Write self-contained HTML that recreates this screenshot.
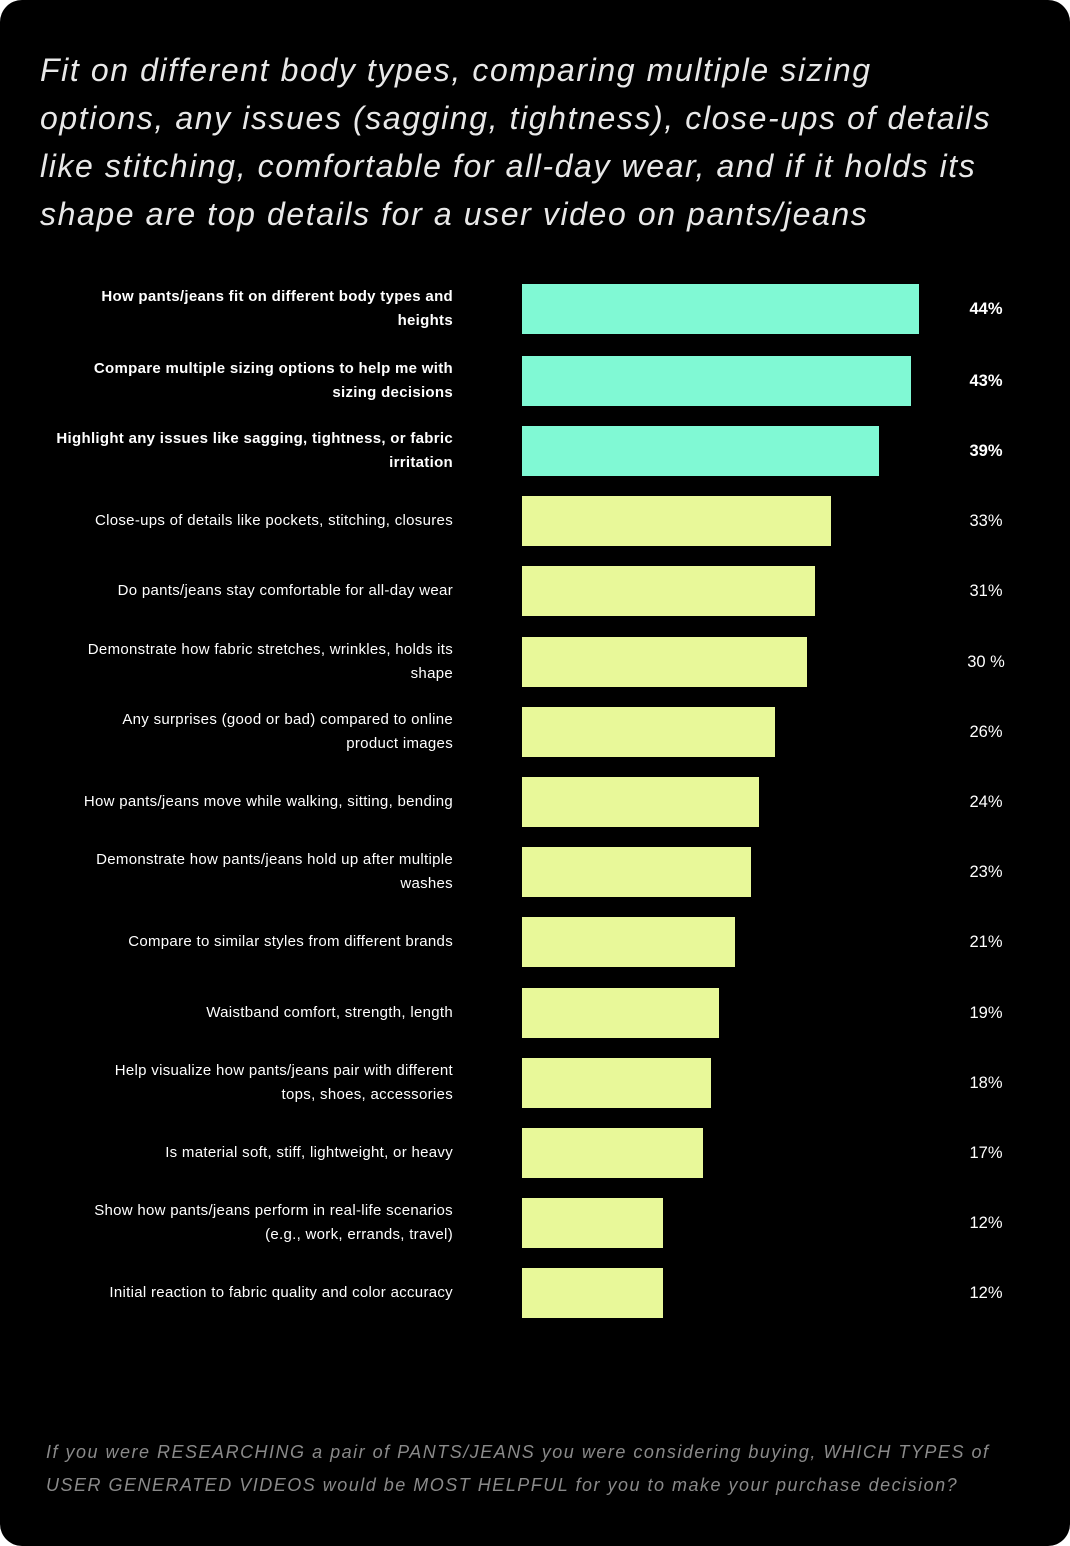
<!DOCTYPE html>
<html><head><meta charset="utf-8"><style>
html,body{margin:0;padding:0;background:#fff;}
#card{position:absolute;left:0;top:0;width:1070px;height:1546px;background:#000;border-radius:22px;overflow:hidden;font-family:"Liberation Sans",sans-serif;}
#title{position:absolute;left:40px;top:46px;width:1030px;color:#e8e8e8;font-style:italic;font-size:32px;line-height:48px;letter-spacing:1.6px;margin:0;font-weight:normal;white-space:nowrap;}
.lbl{position:absolute;right:617px;width:460px;text-align:right;color:#fff;font-size:15px;line-height:24px;white-space:pre-line;letter-spacing:0.3px;}
.lbl.b{font-weight:bold;}
.val{position:absolute;left:946px;width:80px;text-align:center;color:#fff;font-size:16.5px;}
.val.b{font-weight:bold;}
.bar{position:absolute;height:50px;}
#foot{position:absolute;left:46px;top:1436px;width:1020px;color:#8a8a8a;font-style:italic;font-size:18px;line-height:33px;letter-spacing:1.5px;white-space:nowrap;}
</style></head><body>
<div id="card">
<h1 id="title">Fit on different body types, comparing multiple sizing<br>options, any issues (sagging, tightness), close-ups of details<br>like stitching, comfortable for all-day wear, and if it holds its<br>shape are top details for a user video on pants/jeans</h1>
<div id="chart"></div>
<div id="foot">If you were RESEARCHING a pair of PANTS/JEANS you were considering buying, WHICH TYPES of<br>USER GENERATED VIDEOS would be MOST HELPFUL for you to make your purchase decision?</div>
</div>
<script>
const categories = [
"How pants/jeans fit on different body types and\nheights",
"Compare multiple sizing options to help me with\nsizing decisions",
"Highlight any issues like sagging, tightness, or fabric\nirritation",
"Close-ups of details like pockets, stitching, closures",
"Do pants/jeans stay comfortable for all-day wear",
"Demonstrate how fabric stretches, wrinkles, holds its\nshape",
"Any surprises (good or bad) compared to online\nproduct images",
"How pants/jeans move while walking, sitting, bending",
"Demonstrate how pants/jeans hold up after multiple\nwashes",
"Compare to similar styles from different brands",
"Waistband comfort, strength, length",
"Help visualize how pants/jeans pair with different\ntops, shoes, accessories",
"Is material soft, stiff, lightweight, or heavy",
"Show how pants/jeans perform in real-life scenarios\n(e.g., work, errands, travel)",
"Initial reaction to fabric quality and color accuracy"
];
const values = [44,43,39,33,31,30,26,24,23,21,19,18,17,12,12];
const valueLabels = ["44%","43%","39%","33%","31%","30 %","26%","24%","23%","21%","19%","18%","17%","12%","12%"];
const highlightCount = 3;

const x0 = 522;
function xScale(v){ return 45 + v*8.0; }
function yScale(i){ return 284 + i*70.2 + (i>0?1.5:0); }

const chart = document.getElementById('chart');
categories.forEach((c,i)=>{
  const y = yScale(i);
  const hi = i < highlightCount;
  const bar = document.createElement('div');
  
  
  bar.className = 'bar';
  bar.style.left = x0 + 'px';
  bar.style.top = y + 'px';
  bar.style.width = xScale(values[i]) + 'px';
  bar.style.background = hi ? '#80f9d4' : '#e8f899';
  chart.appendChild(bar);

  const lbl = document.createElement('div');
  
  
  lbl.className = 'lbl' + (hi ? ' b' : '');
  lbl.textContent = c;
  chart.appendChild(lbl);
  const h = lbl.offsetHeight;
  lbl.style.top = (y + 25 - h/2) + 'px';

  const val = document.createElement('div');
  
  
  val.className = 'val' + (hi ? ' b' : '');
  val.textContent = valueLabels[i];
  val.style.top = (y + 16) + 'px';
  chart.appendChild(val);
});
</script>
</body></html>
